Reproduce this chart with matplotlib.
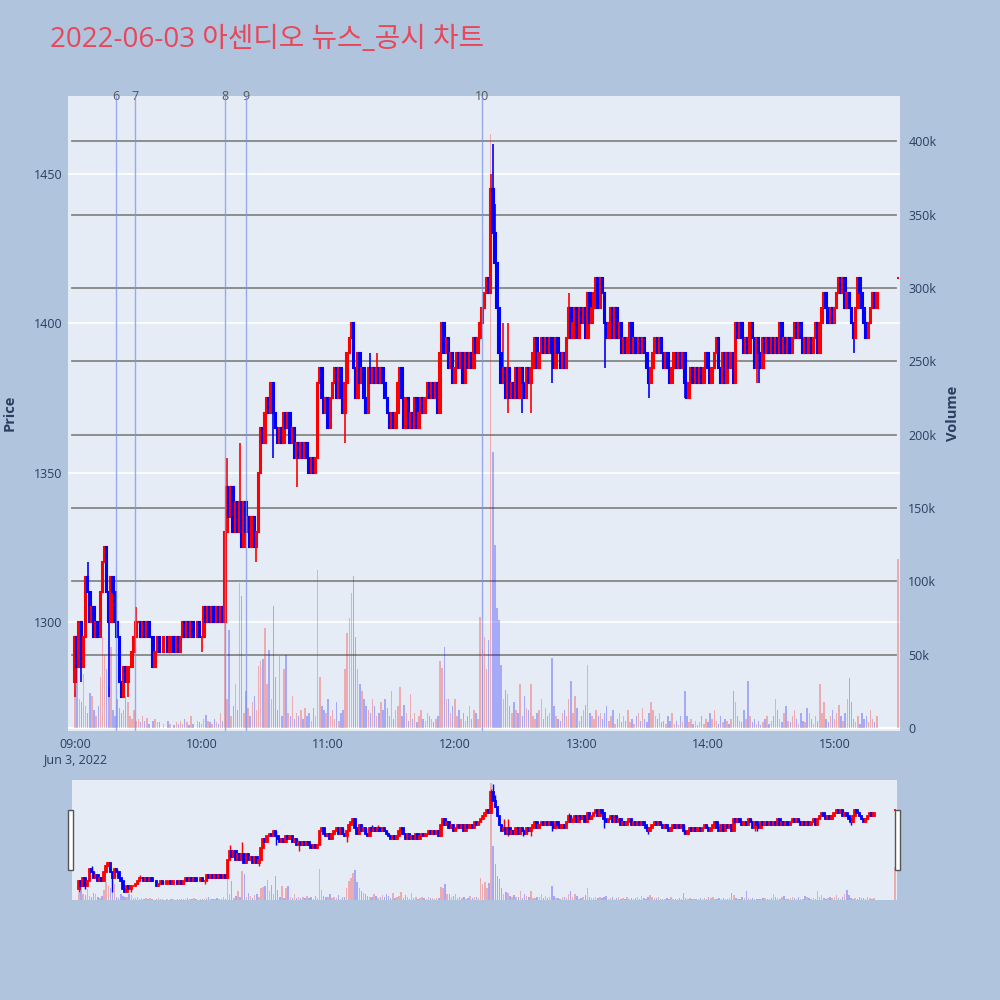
#!/usr/bin/env python3
"""
2022-06-03 아센디오 1분봉 차트 (뉴스/공시 시점 표시) - plotly 스타일 재현
"""

import numpy as np
import pandas as pd
import matplotlib
matplotlib.use('Agg')
import matplotlib.pyplot as plt
import matplotlib.dates as mdates
from matplotlib.patches import Rectangle
from matplotlib.transforms import blended_transform_factory

plt.rcParams['font.family'] = ['Open Sans', 'Noto Sans CJK KR', 'DejaVu Sans']

# ============================================================================
# Daten (1-Minuten-Kerzen ab 09:00, None = kein Handel)
# ============================================================================
close_px = [
    1295, 1285, 1300, 1285, 1295, 1315, 1310, 1300, 1305, 1295,
    1300, 1295, 1310, 1320, 1325, 1310, 1300, 1315, 1310, 1300,
    1295, 1280, 1275, 1285, 1280, 1285, 1285, 1290, 1295, 1300,
    1300, 1295, 1300, 1295, 1300, 1295, None, 1285, 1290, 1295,
    1290, None, 1295, None, 1290, 1295, None, 1290, 1295, 1290,
    1295, 1300, 1295, 1300, 1295, 1300, 1295, None, 1300, 1295,
    1295, 1305, 1300, 1305, 1300, 1305, 1300, 1305, 1300, 1305,
    1300, 1330, 1345, 1335, 1345, 1330, 1340, 1330, 1340, 1325,
    1340, 1330, 1335, 1325, 1335, 1325, 1330, 1350, 1365, 1360,
    1370, 1375, 1370, 1380, 1370, 1365, 1360, 1365, 1360, 1370,
    1365, 1370, 1360, 1365, 1355, 1360, 1355, 1360, 1355, 1360,
    1355, 1350, 1355, 1350, 1355, 1380, 1385, 1375, 1370, 1375,
    1365, 1375, 1380, 1385, 1375, 1385, 1375, 1370, 1380, 1390,
    1395, 1400, 1385, 1375, 1390, 1380, 1385, 1375, 1370, 1385,
    1380, 1385, 1380, 1385, 1380, 1385, 1380, 1375, 1370, 1365,
    1370, 1365, 1370, 1380, 1385, 1375, 1365, 1375, 1365, 1370,
    1365, 1375, 1365, 1370, 1375, 1370, 1375, 1380, 1375, 1380,
    1375, 1380, 1370, 1390, 1400, 1390, 1395, 1385, 1390, 1380,
    1385, 1390, 1385, 1390, 1380, 1390, 1385, 1390, 1385, 1395,
    1390, 1395, 1400, 1405, 1410, 1415, 1410, 1445, 1430, 1420,
    1405, 1390, 1380, 1385, 1375, 1385, 1375, 1380, 1375, 1385,
    1375, 1385, 1380, 1375, 1385, 1380, 1385, 1390, 1395, 1385,
    1390, 1395, 1390, 1395, 1390, 1395, 1390, 1385, 1395, 1390,
    1385, 1390, 1385, 1395, 1405, 1395, 1400, 1405, 1395, 1405,
    1400, 1405, 1395, 1410, 1400, 1405, 1410, 1415, 1405, 1415,
    1410, 1400, 1395, 1400, 1405, 1395, 1405, 1395, 1400, 1390,
    1395, 1390, 1395, 1400, 1390, 1395, 1390, 1395, 1390, 1395,
    1390, 1385, 1380, 1385, 1390, 1395, 1390, 1395, 1390, 1385,
    1390, 1385, 1380, 1385, 1390, 1385, 1390, 1385, 1390, 1380,
    1375, 1380, 1385, 1380, 1385, 1380, 1385, 1380, 1385, 1390,
    1385, 1380, 1385, 1390, 1395, 1385, 1380, 1390, 1380, 1390,
    1385, 1390, 1380, 1400, 1395, 1400, 1395, 1390, 1395, 1390,
    1400, 1395, 1385, 1395, 1390, 1385, 1395, 1390, 1395, 1390,
    1395, 1390, 1395, 1390, 1400, 1390, 1395, 1390, 1395, 1390,
    1395, 1400, 1395, 1400, 1395, 1390, 1395, 1390, 1395, 1390,
    1395, 1400, 1390, 1400, 1405, 1410, 1405, 1400, 1405, 1400,
    1405, 1410, 1415, 1410, 1415, 1405, 1410, 1405, 1400, 1395,
    1405, 1415, 1410, 1405, 1400, 1395, 1400, 1405, 1410, 1405,
    1410,
]

volume_k = [
    25, 48, 20, 18, 37, 15, 10, 24, 22, 12,
    8, 15, 35, 62, 50, 40, 28, 55, 12, 8,
    20, 14, 10, 12, 22, 18, 8, 6, 12, 5,
    6, 4, 8, 5, 7, 3, 0, 5, 6, 4,
    4, 0, 3, 0, 5, 3, 0, 2, 4, 3,
    5, 3, 6, 4, 2, 8, 3, 0, 5, 4,
    3, 6, 9, 5, 4, 3, 6, 4, 3, 10,
    5, 75, 20, 67, 8, 15, 30, 12, 99, 90,
    10, 25, 14, 8, 18, 22, 12, 42, 46, 47,
    68, 30, 53, 20, 83, 35, 12, 49, 8, 40,
    50, 10, 8, 22, 6, 10, 8, 12, 6, 14,
    8, 10, 5, 14, 8, 108, 35, 15, 12, 10,
    20, 8, 12, 6, 18, 5, 10, 12, 40, 65,
    75, 92, 104, 62, 40, 30, 25, 20, 15, 12,
    10, 20, 15, 8, 10, 18, 12, 20, 14, 8,
    25, 6, 12, 15, 28, 8, 16, 10, 5, 23,
    6, 10, 4, 8, 12, 6, 5, 10, 8, 6,
    4, 6, 8, 46, 41, 55, 20, 20, 10, 15,
    20, 8, 12, 6, 10, 5, 8, 15, 6, 12,
    10, 6, 76, 54, 62, 40, 60, 405, 188, 125,
    82, 74, 43, 20, 26, 23, 15, 10, 18, 12,
    10, 30, 8, 22, 14, 12, 30, 8, 6, 10,
    12, 20, 6, 14, 8, 10, 48, 15, 8, 6,
    5, 10, 12, 8, 20, 32, 10, 22, 14, 5,
    8, 12, 16, 43, 10, 8, 6, 12, 8, 10,
    6, 10, 15, 5, 8, 12, 3, 6, 10, 4,
    8, 5, 12, 4, 6, 3, 8, 10, 5, 14,
    6, 4, 10, 18, 12, 8, 6, 10, 4, 5,
    3, 8, 5, 10, 3, 5, 2, 8, 4, 25,
    8, 4, 6, 3, 5, 2, 4, 8, 3, 6,
    4, 10, 6, 12, 5, 3, 8, 4, 6, 5,
    3, 6, 25, 18, 8, 5, 4, 12, 6, 32,
    8, 4, 6, 3, 5, 2, 4, 6, 8, 3,
    5, 8, 20, 12, 6, 4, 10, 15, 5, 4,
    8, 12, 6, 3, 10, 5, 4, 14, 10, 6,
    3, 8, 5, 30, 10, 18, 6, 4, 8, 12,
    6, 10, 16, 8, 5, 10, 20, 34, 18, 6,
    4, 8, 3, 10, 6, 8, 4, 12, 6, 4,
    8,
]

first_open = 1280

# Dochte (Minute -> Preis)
wick_hi_min = [6, 29, 72, 78, 93, 131, 140, 143, 197, 198, 199, 203, 205, 234]
wick_hi_val = [1320, 1305, 1355, 1360, 1380, 1400, 1390, 1390, 1450, 1460, 1440, 1400, 1400, 1410]
wick_lo_min = [0, 3, 16, 22, 25, 60, 86, 94, 105, 128, 138, 184, 205, 212, 216, 226, 251, 272, 289, 323, 324, 369]
wick_lo_val = [1275, 1280, 1275, 1275, 1275, 1290, 1320, 1355, 1345, 1360, 1370, 1380, 1370, 1370, 1370, 1380, 1385, 1375, 1375, 1380, 1380, 1390]

# Schlussauktion 15:30
auction_time = '2022-06-03 15:30'
auction_price = 1415
auction_vol_k = 115

# News/Disclosure-Zeitpunkte
news_times = ['2022-06-03 09:19:30', '2022-06-03 09:28:30', '2022-06-03 10:11',
              '2022-06-03 10:21', '2022-06-03 12:13']
news_labels = ['6', '7', '8', '9', '10']

title = '2022-06-03 아센디오 뉴스_공시 차트'

# ============================================================================
# DataFrame aufbauen
# ============================================================================
assert len(close_px) == len(volume_k)
times = pd.date_range('2022-06-03 09:00', periods=len(close_px), freq='min')
df = pd.DataFrame({'time': times, 'close': close_px, 'volume': volume_k})
df['minute'] = np.arange(len(df))
df = df.dropna(subset=['close']).reset_index(drop=True)
df['close'] = df['close'].astype(float)
df['open'] = df['close'].shift(1).fillna(first_open)
df['high'] = df[['open', 'close']].max(axis=1)
df['low'] = df[['open', 'close']].min(axis=1)
for m, v in zip(wick_hi_min, wick_hi_val):
    df.loc[df['minute'] == m, 'high'] = np.maximum(df.loc[df['minute'] == m, 'high'], v)
for m, v in zip(wick_lo_min, wick_lo_val):
    df.loc[df['minute'] == m, 'low'] = np.minimum(df.loc[df['minute'] == m, 'low'], v)

auction = pd.DataFrame({'time': [pd.Timestamp(auction_time)], 'close': [float(auction_price)],
                        'volume': [auction_vol_k], 'minute': [390],
                        'open': [float(auction_price)], 'high': [float(auction_price)],
                        'low': [float(auction_price)]})
df = pd.concat([df, auction], ignore_index=True)
df['x'] = mdates.date2num(df['time'])
df['color'] = np.where(df['close'] >= df['open'], '#FF0000', '#0000FF')

MINUTE = 1.0 / 1440
BG = '#E5ECF6'
PAPER = '#B0C4DE'
FONT_C = '#2a3f5f'


def draw_candles(axis, d, body_w, lw):
    axis.vlines(d['x'], d['low'], d['high'], colors=d['color'], linewidth=lw * 0.8, zorder=3)
    bottom = np.minimum(d['open'], d['close'])
    height = np.abs(d['close'] - d['open'])
    axis.bar(d['x'], height, bottom=bottom, width=body_w, color=d['color'],
             edgecolor=d['color'], linewidth=lw, zorder=4)


def draw_volume(axis, d, w):
    axis.bar(d['x'], d['volume'] * 1000, width=w, color=d['color'], alpha=0.28,
             linewidth=0, zorder=2)


x_lo = mdates.date2num(pd.Timestamp('2022-06-03 08:56:40'))
x_hi = mdates.date2num(pd.Timestamp('2022-06-03 15:31:00'))

fig = plt.figure(figsize=(10, 10), dpi=100)
fig.patch.set_facecolor(PAPER)

# ============================================================================
# Hauptchart
# ============================================================================
ax = fig.add_axes([0.068, 0.269, 0.832, 0.635])
ax.set_facecolor(BG)
ax2 = ax.twinx()

draw_candles(ax, df, 0.75 * MINUTE, 1.5)
draw_volume(ax2, df, 0.7 * MINUTE)

ax.set_xlim(x_lo, x_hi)
ax.set_ylim(1263.5, 1476)
ax2.set_ylim(-2000, 431000)

ax.set_yticks([1300, 1350, 1400, 1450])
ax.grid(axis='y', color='white', linewidth=1.2, zorder=0)
ax.grid(axis='x', visible=False)
ax.set_axisbelow(True)

vol_ticks = np.arange(0, 400001, 50000)
ax2.set_yticks(vol_ticks)
ax2.set_yticklabels(['0'] + [f'{int(v / 1000)}k' for v in vol_ticks[1:]])
tr = blended_transform_factory(ax.transAxes, ax2.transData)
for v in vol_ticks[1:]:
    ax.plot([0.005, 0.995], [v, v], transform=tr, color='#858585', linewidth=1.3, zorder=1)
ax.plot([0, 1], [0, 0], transform=tr, color='white', linewidth=1.6, zorder=1)

hour_ticks = pd.date_range('2022-06-03 09:00', '2022-06-03 15:00', freq='h')
ax.set_xticks(mdates.date2num(hour_ticks))
labels = [t.strftime('%H:%M') for t in hour_ticks]
labels[0] = '09:00\nJun 3, 2022'
ax.set_xticklabels(labels)

for a in (ax, ax2):
    for s in a.spines.values():
        s.set_visible(False)
    a.tick_params(length=0, labelsize=9, colors=FONT_C)
ax.tick_params(axis='y', pad=4)
ax.tick_params(axis='x', pad=5)
ax2.tick_params(axis='y', pad=6)

# News-Linien
ntr = blended_transform_factory(ax.transData, ax.transAxes)
for t, lab in zip(news_times, news_labels):
    xt = mdates.date2num(pd.Timestamp(t))
    ax2.axvline(xt, color='#7F93E8', linewidth=1.0, alpha=0.75, zorder=6)
    ax.text(xt, 1.0, lab, transform=ntr, ha='center', va='center', fontsize=9,
            color='#555555', zorder=7, clip_on=False)

fig.text(0.010, 0.587, 'Price', rotation=90, ha='center', va='center',
         fontsize=10.5, fontweight='bold', color=FONT_C)
fig.text(0.953, 0.587, 'Volume', rotation=90, ha='center', va='center',
         fontsize=10.5, fontweight='bold', color=FONT_C)
fig.text(0.05, 0.960, title, ha='left', va='center', fontsize=20, color='#E8475A')

# ============================================================================
# Rangeslider
# ============================================================================
rs = fig.add_axes([0.072, 0.10, 0.825, 0.12])
rs.set_facecolor(BG)
rs2 = rs.twinx()
draw_candles(rs, df, 0.75 * MINUTE, 1.3)
draw_volume(rs2, df, 0.7 * MINUTE)
rs.set_xlim(x_lo, x_hi)
rs.set_ylim(1262, 1466)
rs2.set_ylim(0, 415000)
for a in (rs, rs2):
    a.set_xticks([])
    a.set_yticks([])
    for s in a.spines.values():
        s.set_visible(False)

for hx in (0.068, 0.895):
    fig.patches.append(Rectangle((hx, 0.13), 0.005, 0.06, transform=fig.transFigure,
                                 facecolor='white', edgecolor='#555555', linewidth=1))

fig.savefig('out.png', dpi=100, facecolor=PAPER)
print('saved out.png')
